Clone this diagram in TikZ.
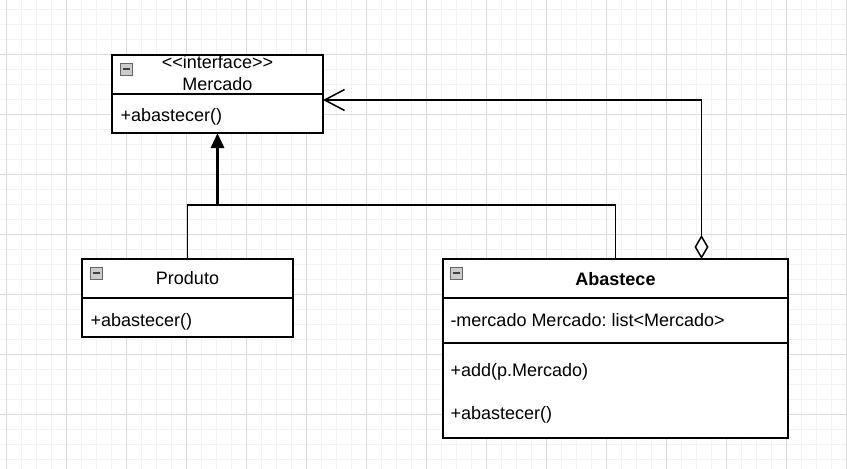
\documentclass[tikz,border=0pt]{standalone}
\usepackage{fontspec}
\setmainfont{Liberation Sans}
\usetikzlibrary{arrows.meta}
\frenchspacing
\definecolor{gridminor}{HTML}{F3F3F3}
\definecolor{gridmajor}{HTML}{DADADA}
\tikzset{
  umlbox/.style={draw=black, line width=1.5pt, fill=white, inner sep=0pt, outer sep=0pt, rectangle},
  divider/.style={draw=black, line width=1.5pt},
  lbl/.style={inner sep=0pt, outer sep=0pt, font=\fontsize{18}{21}\selectfont\frenchspacing},
  conn/.style={draw=black, line width=1.5pt},
  inh/.style={draw=black, line width=3pt, -{Triangle[length=15pt,width=13pt]}},
  aggr/.style={draw=black, line width=1.5pt, {Diamond[open,length=24pt,width=14pt,line width=1.5pt]}-{Straight Barb[length=20pt,width=21pt,line width=1.5pt]}},
  collapse/.pic={
    \draw[draw=gray!80!black, fill=gray!40, line width=0.8pt] (0,0) rectangle (12,12);
    \draw[draw=black!75, line width=1.6pt] (2.5,6) -- (9.5,6);
  }
}
\begin{document}
\begin{tikzpicture}[x=1pt,y=-1pt]
\useasboundingbox (0,0) rectangle (847,469);
\fill[white] (0,0) rectangle (847,469);
% grid
\foreach \x in {6.7,21.7,...,847} \draw[gridminor, line width=1pt] (\x,0) -- (\x,469);
\foreach \y in {9.3,24.3,...,469} \draw[gridminor, line width=1pt] (0,\y) -- (847,\y);
\foreach \x in {6.7,66.7,...,847} \draw[gridmajor, line width=1pt] (\x,0) -- (\x,469);
\foreach \y in {54.3,114.3,...,469} \draw[gridmajor, line width=1pt] (0,\y) -- (847,\y);

% Mercado
\node[umlbox, minimum width=211pt, minimum height=78pt] (merc) at (217.5,94) {};
\draw[divider] (112,94) -- (323,94);
\pic at (120,63) {collapse};
\node[lbl, anchor=base] (mercst) at (217.5,68.5) {{<}{<}interface{>}{>}};
\node[lbl, anchor=base] (mercname) at (217.5,90) {Mercado};
\node[lbl, anchor=base west] (mercop) at (120.5,121.5) {+abastecer()};

% Produto
\node[umlbox, minimum width=211pt, minimum height=78pt] (prod) at (187.5,298) {};
\draw[divider] (82,298) -- (293,298);
\pic at (90,267) {collapse};
\node[lbl, anchor=base] (prodname) at (187.5,284) {Produto};
\node[lbl, anchor=base west] (prodop) at (90.5,326) {+abastecer()};

% Abastece
\node[umlbox, minimum width=345pt, minimum height=179pt] (abast) at (615.5,348.5) {};
\draw[divider] (443,298) -- (788,298);
\draw[divider] (443,343) -- (788,343);
\pic at (450,267) {collapse};
\node[lbl, anchor=base, font=\fontsize{18}{21}\selectfont\bfseries] (abname) at (615.5,285) {Abastece};
\node[lbl, anchor=base west] (abattr) at (450.5,326) {-mercado Mercado: list{<}Mercado{>}};
\node[lbl, anchor=base west] (abop1) at (450.5,376) {+add(p.Mercado)};
\node[lbl, anchor=base west] (abop2) at (450.5,419) {+abastecer()};

% inheritance
\coordinate (junction) at (217.5,205);
\draw[conn] (prod.north) |- (junction) -| (abast.north);
\draw[inh] (junction) -- (merc.south);

% aggregation
\coordinate (agbot) at (701.5,259);
\coordinate (agtop) at (701.5,100);
\draw[aggr] (agbot) -- (agtop) -- (merc.east |- agtop);
\end{tikzpicture}
\end{document}
